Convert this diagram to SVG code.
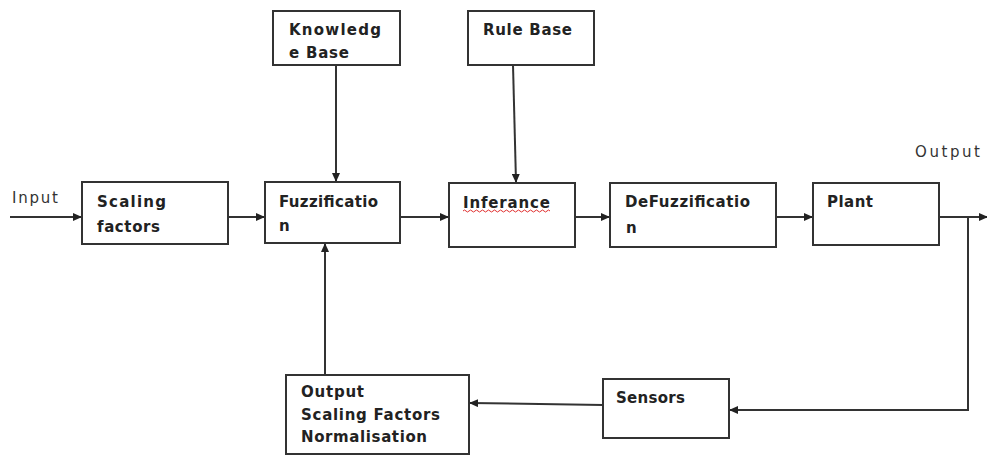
<svg xmlns="http://www.w3.org/2000/svg" width="987" height="455" viewBox="0 0 987 455">
<defs>
<marker id="ah" markerWidth="9" markerHeight="8" refX="8" refY="4" orient="auto" markerUnits="userSpaceOnUse">
<path d="M0,0 L9,4 L0,8 Z" fill="#222"/>
</marker>
<style>
.box{fill:#fff;stroke:#333;stroke-width:2}
.lbl{font-family:"DejaVu Sans","Liberation Sans",sans-serif;font-weight:bold;font-size:15px;fill:#222}
.plain{font-family:"DejaVu Sans","Liberation Sans",sans-serif;font-size:15px;fill:#333}
.ln{fill:none;stroke:#333;stroke-width:2}
</style>
</defs>
<rect width="987" height="455" fill="#fff"/>
<g id="connectors">
<path class="ln" d="M10,217 H81" marker-end="url(#ah)"/>
<path class="ln" d="M228,217 H264" marker-end="url(#ah)"/>
<path class="ln" d="M336,65 V181" marker-end="url(#ah)"/>
<path class="ln" d="M513,65 L516,182" marker-end="url(#ah)"/>
<path class="ln" d="M400,217 H448" marker-end="url(#ah)"/>
<path class="ln" d="M575,217 H609" marker-end="url(#ah)"/>
<path class="ln" d="M776,217 H812" marker-end="url(#ah)"/>
<path class="ln" d="M939,217 H987" marker-end="url(#ah)"/>
<path class="ln" d="M968,217 V410 H730" marker-end="url(#ah)"/>
<path class="ln" d="M603,405 L470,403" marker-end="url(#ah)"/>
<path class="ln" d="M325,375 V244" marker-end="url(#ah)"/>
</g>
<g id="input-label"><text class="plain" x="12" y="203" textLength="46">Input</text></g>
<g id="output-label"><text class="plain" x="915" y="157" textLength="65">Output</text></g>
<g id="scaling">
<rect class="box" x="82" y="182" width="146" height="62"/>
<text class="lbl" x="97" y="207" textLength="69">Scaling</text>
<text class="lbl" x="97" y="232" textLength="63">factors</text>
</g>
<g id="knowledge">
<rect class="box" x="273" y="11" width="127" height="54"/>
<text class="lbl" x="289" y="35" textLength="92">Knowledg</text>
<text class="lbl" x="289" y="58" textLength="60">e Base</text>
</g>
<g id="rulebase">
<rect class="box" x="468" y="11" width="126" height="54"/>
<text class="lbl" x="483" y="35" textLength="89">Rule Base</text>
</g>
<g id="fuzzification">
<rect class="box" x="265" y="182" width="135" height="61"/>
<text class="lbl" x="279" y="207" textLength="99">Fuzzificatio</text>
<text class="lbl" x="279" y="231">n</text>
</g>
<g id="inferance">
<rect class="box" x="449" y="183" width="126" height="64"/>
<text class="lbl" x="463" y="208" textLength="87">Inferance</text>
<path d="M463,211 q1.5,-2 3,0 t3,0 t3,0 t3,0 t3,0 t3,0 t3,0 t3,0 t3,0 t3,0 t3,0 t3,0 t3,0 t3,0 t3,0 t3,0 t3,0 t3,0 t3,0 t3,0 t3,0 t3,0 t3,0 t3,0 t3,0 t3,0 t3,0 t3,0 t3,0" fill="none" stroke="#e03030" stroke-width="1"/>
</g>
<g id="defuzzification">
<rect class="box" x="610" y="183" width="166" height="64"/>
<text class="lbl" x="625" y="207" textLength="125">DeFuzzificatio</text>
<text class="lbl" x="626" y="233">n</text>
</g>
<g id="plant">
<rect class="box" x="813" y="183" width="126" height="62"/>
<text class="lbl" x="827" y="207" textLength="46">Plant</text>
</g>
<g id="sensors">
<rect class="box" x="603" y="379" width="126" height="59"/>
<text class="lbl" x="616" y="403" textLength="69">Sensors</text>
</g>
<g id="output-scaling">
<rect class="box" x="286" y="375" width="183" height="79"/>
<text class="lbl" x="301" y="397" textLength="63">Output</text>
<text class="lbl" x="301" y="420" textLength="139">Scaling Factors</text>
<text class="lbl" x="301" y="442" textLength="126">Normalisation</text>
</g>
</svg>
